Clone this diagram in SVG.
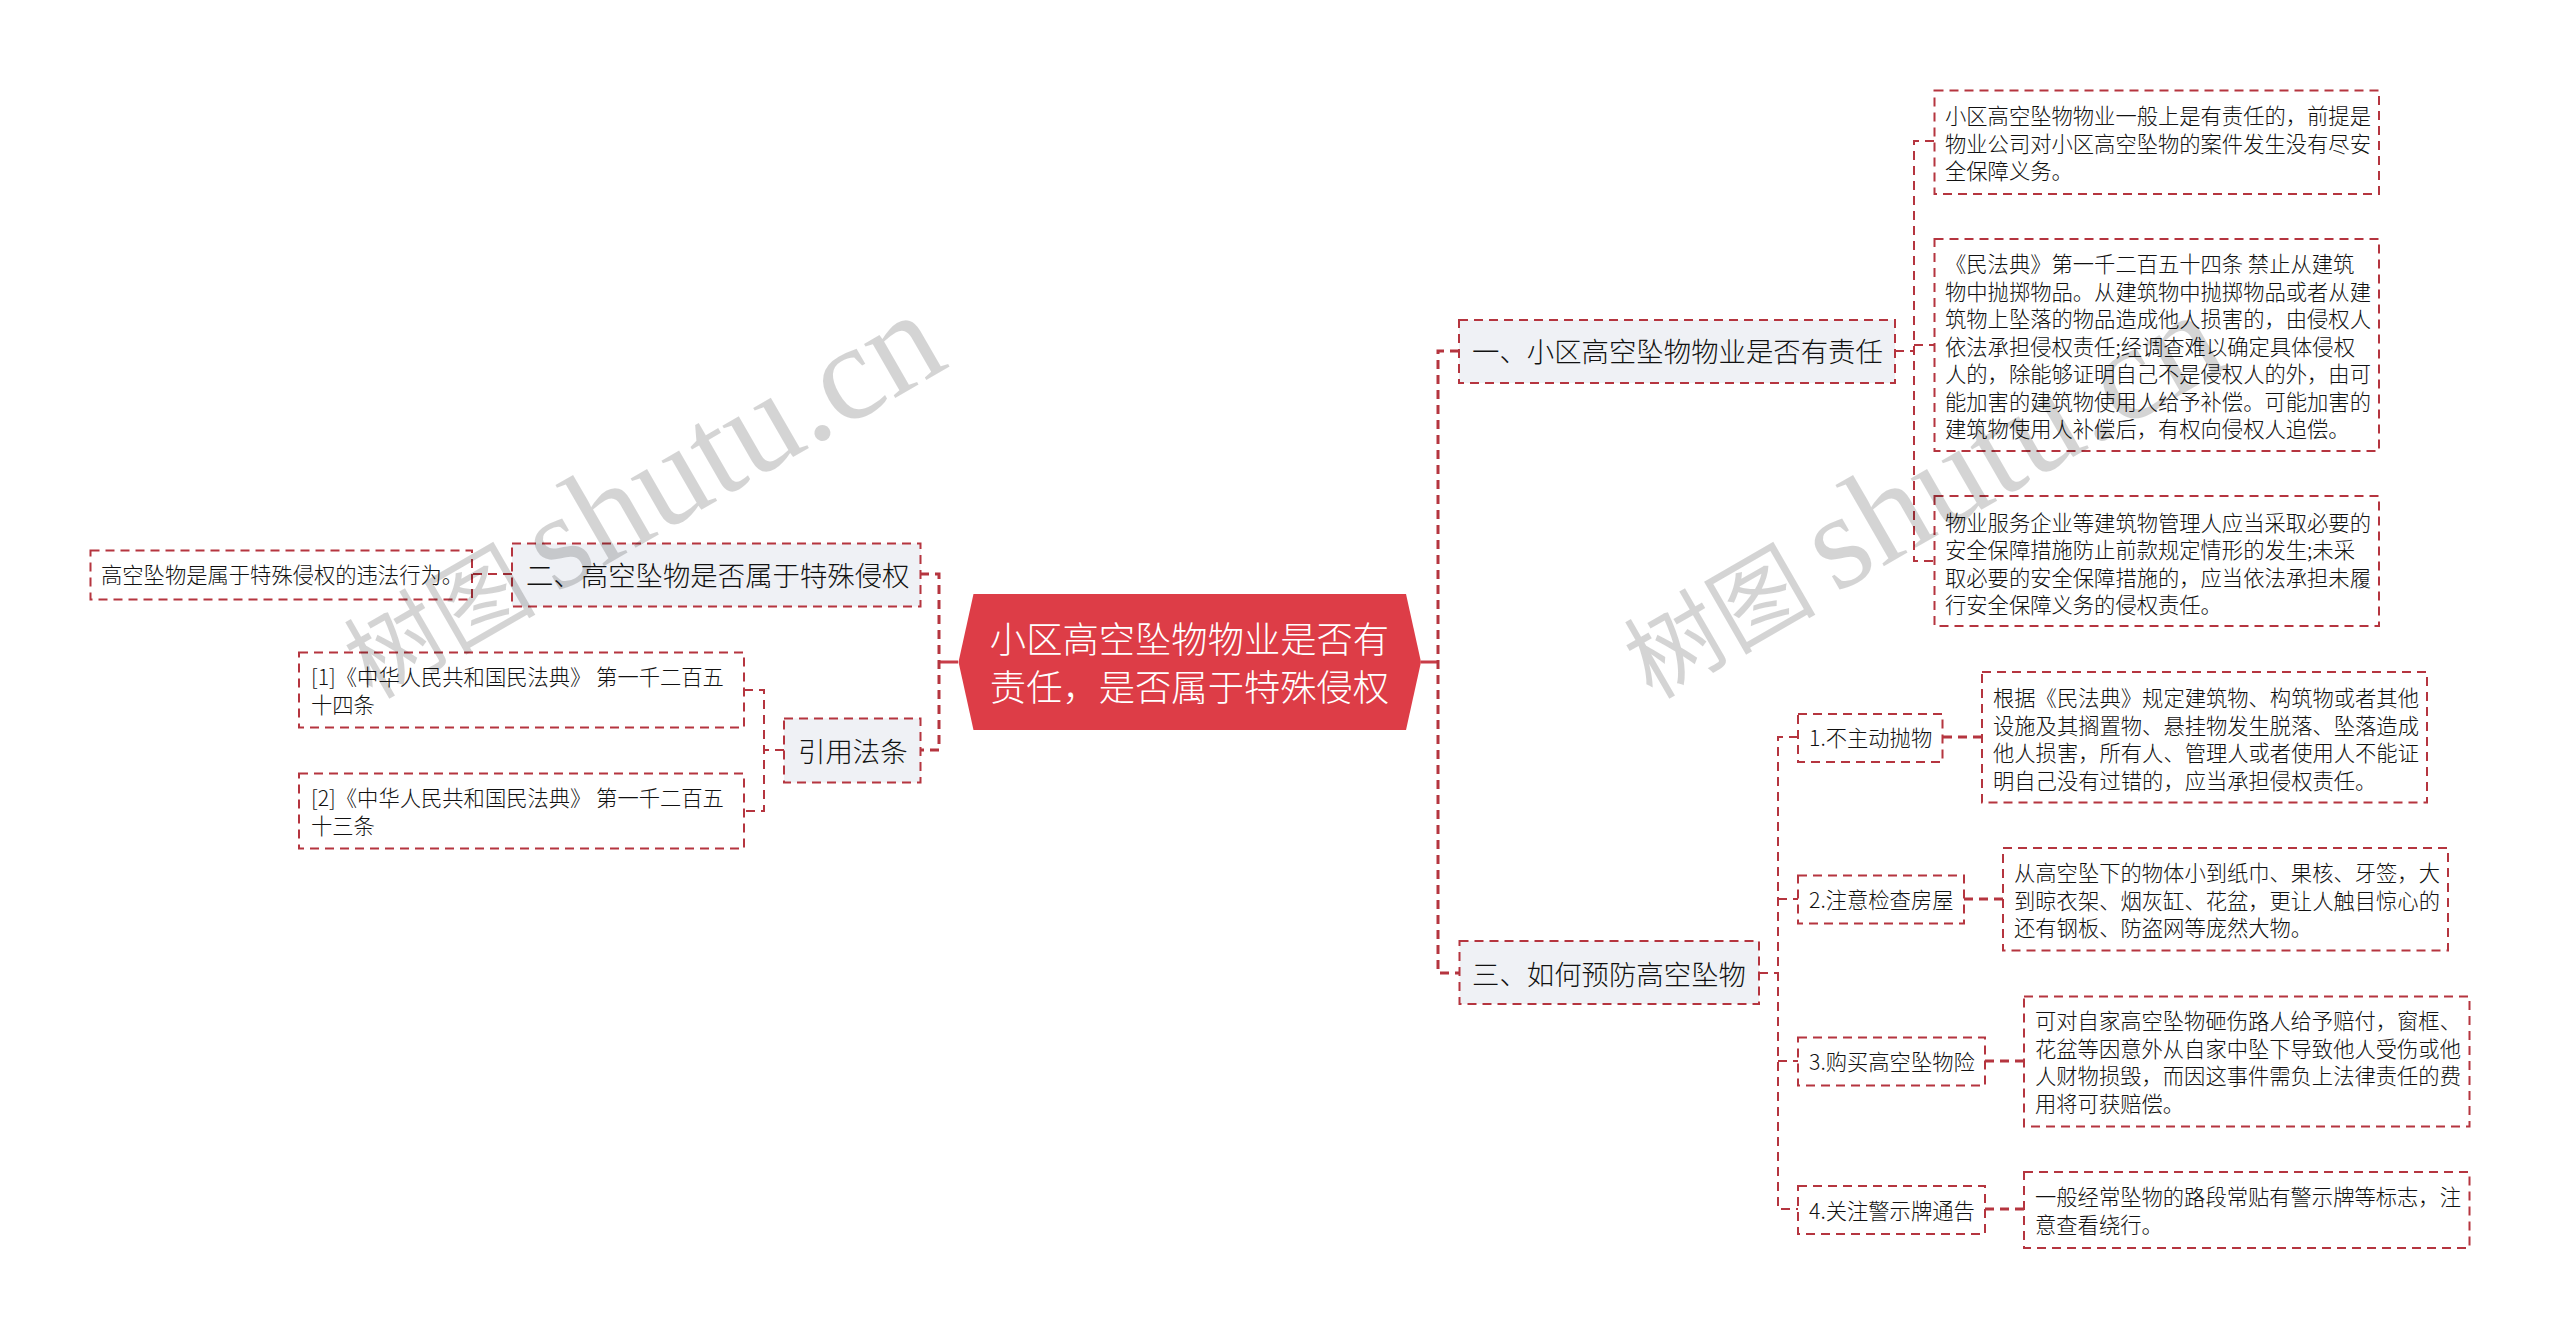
<svg xmlns="http://www.w3.org/2000/svg" width="2560" height="1338" viewBox="0 0 2560 1338">
<style>
text{font-family:"Noto Sans CJK SC","Liberation Sans",sans-serif;fill:#111;font-weight:300}
.bx{fill:#fff;stroke:#b5353f;stroke-width:2;stroke-dasharray:9 6}
.nd{fill:#eff1f5;stroke:#b5353f;stroke-width:2;stroke-dasharray:9 6}
.l{font-size:21.3px}
.n{font-size:27.4px}
.r{font-size:36.3px;fill:#fff;text-anchor:middle}
.c{fill:none;stroke:#b5353f;stroke-width:2;stroke-dasharray:9 6}
.c2{fill:none;stroke:#b5353f;stroke-width:3;stroke-dasharray:9 6}
.s{fill:none;stroke:#c83d48;stroke-width:3}
.w{font-family:"Liberation Serif","Noto Sans CJK SC",serif;font-size:136px;font-weight:400;fill:#000;fill-opacity:.17}
.wc{font-family:"Noto Sans CJK SC",serif;font-size:96px;fill:#000;fill-opacity:.17;font-weight:400}
</style>
<rect width="2560" height="1338" fill="#fff"/>
<g id="connectors">
<path class="s" d="M958 662H939M1421 662H1439"/>
<path class="c2" d="M920 574H939V750H920M1459 351H1438V973H1459"/>
<path class="c" d="M1895 351H1914M1934 141H1914V561H1934M1914 345H1934"/>
<path class="c" d="M1759 973H1778M1798 737H1778V1209H1798M1778 899H1798M1778 1061H1798"/>
<path class="c2" d="M1943 737H1982M1964 899H2003M1985 1061H2024M1985 1209H2024"/>
<path class="c" d="M512 574H472M784 750H764M744 690H764V811H744"/>
</g>
<g id="root"><polygon points="973.500,594 1406,594 1421,662 1406,730 973.500,730 958.500,662" fill="#dd3d47"/>
<text class="r" x="1189.500" y="652.500">小区高空坠物物业是否有</text><text class="r" x="1189.500" y="700.500">责任，是否属于特殊侵权</text></g>
<g id="n1"><rect class="nd" x="1459" y="320" width="436" height="63"/><text class="n" x="1472" y="362">一、小区高空坠物物业是否有责任</text></g>
<g id="n1a"><rect class="bx" x="1934.500" y="90.500" width="444.500" height="103.500"/><text class="l"><tspan x="1945" y="124">小区高空坠物物业一般上是有责任的，前提是</tspan><tspan x="1945" y="151.600">物业公司对小区高空坠物的案件发生没有尽安</tspan><tspan x="1945" y="179.200">全保障义务。</tspan></text></g>
<g id="n1b"><rect class="bx" x="1934.500" y="239" width="444.500" height="212"/><text class="l"><tspan x="1945" y="272">《民法典》第一千二百五十四条 禁止从建筑</tspan><tspan x="1945" y="299.500">物中抛掷物品。从建筑物中抛掷物品或者从建</tspan><tspan x="1945" y="327">筑物上坠落的物品造成他人损害的，由侵权人</tspan><tspan x="1945" y="354.500">依法承担侵权责任;经调查难以确定具体侵权</tspan><tspan x="1945" y="382">人的，除能够证明自己不是侵权人的外，由可</tspan><tspan x="1945" y="409.500">能加害的建筑物使用人给予补偿。可能加害的</tspan><tspan x="1945" y="437">建筑物使用人补偿后，有权向侵权人追偿。</tspan></text></g>
<g id="n1c"><rect class="bx" x="1934.500" y="496" width="444.500" height="130"/><text class="l"><tspan x="1945" y="530.500">物业服务企业等建筑物管理人应当采取必要的</tspan><tspan x="1945" y="558">安全保障措施防止前款规定情形的发生;未采</tspan><tspan x="1945" y="585.500">取必要的安全保障措施的，应当依法承担未履</tspan><tspan x="1945" y="613">行安全保障义务的侵权责任。</tspan></text></g>
<g id="n3"><rect class="nd" x="1459.500" y="941" width="299.500" height="63"/><text class="n" x="1472" y="984.500">三、如何预防高空坠物</text></g>
<g id="n31"><rect class="bx" x="1798" y="714" width="144.500" height="48"/><text class="l" x="1809" y="746">1.不主动抛物</text></g>
<g id="n31a"><rect class="bx" x="1982" y="672" width="445" height="130.500"/><text class="l"><tspan x="1993" y="706">根据《民法典》规定建筑物、构筑物或者其他</tspan><tspan x="1993" y="733.500">设施及其搁置物、悬挂物发生脱落、坠落造成</tspan><tspan x="1993" y="761">他人损害，所有人、管理人或者使用人不能证</tspan><tspan x="1993" y="788.500">明自己没有过错的，应当承担侵权责任。</tspan></text></g>
<g id="n32"><rect class="bx" x="1798" y="875.500" width="166" height="48"/><text class="l" x="1809" y="908">2.注意检查房屋</text></g>
<g id="n32a"><rect class="bx" x="2003" y="848" width="445" height="102.500"/><text class="l"><tspan x="2014" y="881">从高空坠下的物体小到纸巾、果核、牙签，大</tspan><tspan x="2014" y="908.500">到晾衣架、烟灰缸、花盆，更让人触目惊心的</tspan><tspan x="2014" y="936">还有钢板、防盗网等庞然大物。</tspan></text></g>
<g id="n33"><rect class="bx" x="1798" y="1037.500" width="187" height="48"/><text class="l" x="1809" y="1070">3.购买高空坠物险</text></g>
<g id="n33a"><rect class="bx" x="2024" y="996.500" width="445.500" height="130"/><text class="l"><tspan x="2035" y="1029">可对自家高空坠物砸伤路人给予赔付，窗框、</tspan><tspan x="2035" y="1056.500">花盆等因意外从自家中坠下导致他人受伤或他</tspan><tspan x="2035" y="1084">人财物损毁，而因这事件需负上法律责任的费</tspan><tspan x="2035" y="1111.500">用将可获赔偿。</tspan></text></g>
<g id="n34"><rect class="bx" x="1798" y="1186" width="187" height="48"/><text class="l" x="1809" y="1219">4.关注警示牌通告</text></g>
<g id="n34a"><rect class="bx" x="2024" y="1172" width="445.500" height="76"/><text class="l"><tspan x="2035" y="1205">一般经常坠物的路段常贴有警示牌等标志，注</tspan><tspan x="2035" y="1232.500">意查看绕行。</tspan></text></g>
<g id="n2"><rect class="nd" x="512" y="543.500" width="408.500" height="63"/><text class="n" x="526" y="585.500">二、高空坠物是否属于特殊侵权</text></g>
<g id="n2a"><rect class="bx" x="90.500" y="550.500" width="381.500" height="49"/><text class="l" x="101" y="583">高空坠物是属于特殊侵权的违法行为。</text></g>
<g id="n4"><rect class="nd" x="784" y="718.500" width="136.500" height="64"/><text class="n" x="798" y="761.500">引用法条</text></g>
<g id="n4a"><rect class="bx" x="299" y="652.500" width="445" height="75"/><text class="l"><tspan x="311" y="684.500">[1]《中华人民共和国民法典》 第一千二百五</tspan><tspan x="311" y="712.500">十四条</tspan></text></g>
<g id="n4b"><rect class="bx" x="299" y="773.500" width="445" height="75"/><text class="l"><tspan x="311" y="805.500">[2]《中华人民共和国民法典》 第一千二百五</tspan><tspan x="311" y="833.500">十三条</tspan></text></g>
<g id="watermarks">
<g transform="translate(372 700) rotate(-30)"><text class="wc">树图</text><text class="w" x="212">shutu.cn</text></g>
<g transform="translate(1652 700) rotate(-30)"><text class="wc">树图</text><text class="w" x="212">shutu.cn</text></g>
<g transform="translate(380 1718) rotate(-30)"><text class="w" x="212">shutu.cn</text></g>
<g transform="translate(1660 1718) rotate(-30)"><text class="w" x="212">shutu.cn</text></g>
</g>
</svg>
